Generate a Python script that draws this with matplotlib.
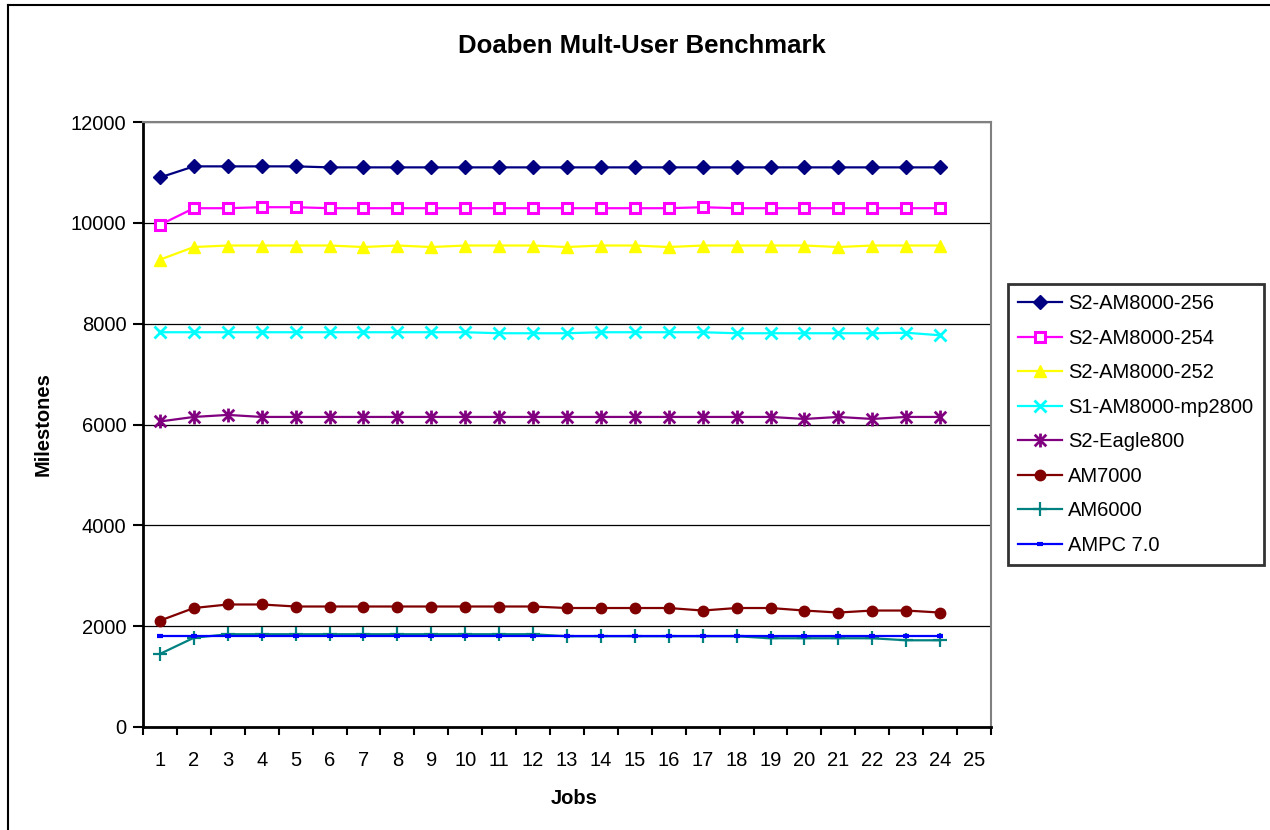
import numpy as np
import matplotlib
matplotlib.use('Agg')
import matplotlib.pyplot as plt
from matplotlib.path import Path
from matplotlib.lines import Line2D

plt.rcParams['font.family'] = ['Liberation Sans', 'DejaVu Sans']

jobs = list(range(1, 25))

s2_am8000_256 = [10900, 11120, 11120, 11120, 11120, 11100, 11100, 11100, 11100, 11100, 11100, 11100,
                 11100, 11100, 11100, 11100, 11100, 11100, 11100, 11100, 11100, 11100, 11100, 11100]
s2_am8000_254 = [9960, 10290, 10290, 10310, 10310, 10290, 10290, 10290, 10290, 10290, 10290, 10290,
                 10290, 10290, 10290, 10290, 10310, 10290, 10290, 10290, 10290, 10290, 10290, 10290]
s2_am8000_252 = [9270, 9520, 9550, 9550, 9550, 9550, 9520, 9550, 9520, 9550, 9550, 9550,
                 9520, 9550, 9550, 9520, 9550, 9550, 9550, 9550, 9520, 9550, 9550, 9550]
s1_am8000_mp2800 = [7830, 7830, 7830, 7830, 7830, 7830, 7830, 7830, 7830, 7830, 7810, 7810,
                    7810, 7830, 7830, 7830, 7830, 7810, 7810, 7810, 7810, 7810, 7820, 7770]
s2_eagle800 = [6060, 6150, 6190, 6150, 6150, 6150, 6150, 6150, 6150, 6150, 6150, 6150,
               6150, 6150, 6150, 6150, 6150, 6150, 6150, 6110, 6150, 6110, 6150, 6150]
am7000 = [2110, 2360, 2430, 2430, 2390, 2390, 2390, 2390, 2390, 2390, 2390, 2390,
          2360, 2360, 2360, 2360, 2310, 2360, 2360, 2310, 2270, 2310, 2310, 2270]
am6000 = [1450, 1770, 1840, 1840, 1840, 1840, 1840, 1840, 1840, 1840, 1840, 1840,
          1800, 1800, 1800, 1800, 1800, 1800, 1760, 1760, 1760, 1760, 1720, 1720]
ampc_70 = [1800, 1800, 1800, 1800, 1800, 1800, 1800, 1800, 1800, 1800, 1800, 1800,
           1800, 1800, 1800, 1800, 1800, 1800, 1800, 1800, 1800, 1800, 1800, 1800]

# excel style star: X with a vertical stroke
star = Path([(-0.5, -0.5), (0.5, 0.5), (-0.5, 0.5), (0.5, -0.5), (0, -0.6), (0, 0.6)],
            [Path.MOVETO, Path.LINETO, Path.MOVETO, Path.LINETO, Path.MOVETO, Path.LINETO])

series = [
    ('S2-AM8000-256', s2_am8000_256, dict(color='#000080', marker='D', ms=7)),
    ('S2-AM8000-254', s2_am8000_254, dict(color='#FF00FF', marker='s', ms=6.5, mfc='white', mew=2.2)),
    ('S2-AM8000-252', s2_am8000_252, dict(color='#FFFF00', marker='^', ms=9)),
    ('S1-AM8000-mp2800', s1_am8000_mp2800, dict(color='#00FFFF', marker='x', ms=8, mew=2)),
    ('S2-Eagle800', s2_eagle800, dict(color='#800080', marker=star, ms=10, mew=2)),
    ('AM7000', am7000, dict(color='#800000', marker='o', ms=7.5)),
    ('AM6000', am6000, dict(color='#008080', marker='+', ms=10, mew=1.6)),
    ('AMPC 7.0', ampc_70, dict(color='#0000FF', marker='_', ms=5, mew=3)),
]

fig = plt.figure(figsize=(12.7, 8.3), dpi=100)
ax = fig.add_axes([143/1270, 1-727/830, (991-143)/1270, (727-122)/830])

for name, vals, style in series:
    ax.plot(jobs, vals, lw=1.6, label=name, **style)

ax.set_xlim(0.5, 25.5)
ax.set_ylim(0, 12000)
ax.set_yticks(np.arange(0, 12001, 2000))
ax.yaxis.grid(True, color='black', lw=0.9)
ax.set_axisbelow(True)

# ticks between categories, labels at centres
ax.set_xticks(np.arange(0.5, 26, 1))
ax.set_xticklabels([])
ax.set_xticks(np.arange(1, 26), minor=True)
ax.set_xticklabels([str(i) for i in range(1, 26)], minor=True)
ax.tick_params(axis='x', which='major', direction='out', length=6, width=1.5)
ax.tick_params(axis='x', which='minor', length=0, pad=17, labelsize=14.5)
ax.tick_params(axis='y', direction='out', length=7, width=1.5, pad=5, labelsize=14.5)

for s in ['top', 'right']:
    ax.spines[s].set_color('#808080')
    ax.spines[s].set_linewidth(1.5)
for s in ['left', 'bottom']:
    ax.spines[s].set_linewidth(2)

ax.set_xlabel('Jobs', fontsize=14.5, fontweight='bold')
ax.xaxis.set_label_coords(0.509, -0.1025)
ax.set_ylabel('Milestones', fontsize=14.5, fontweight='bold')
ax.yaxis.set_label_coords(-0.106, 0.5)

fig.text(642/1270, 1-46/830, 'Doaben Mult-User Benchmark', fontsize=18.5,
         fontweight='bold', ha='center', va='center')

leg = fig.legend(loc='upper left', bbox_to_anchor=(1008/1270, 1-284/830),
                 fontsize=14.5, frameon=True, fancybox=False, edgecolor='black',
                 handlelength=2.2, handletextpad=0.3, labelspacing=0.77,
                 borderpad=0.5, borderaxespad=0)
leg.get_frame().set_linewidth(2)

# outer chart frame
fig.add_artist(Line2D([8/1270, 8/1270], [-0.1, 1-5/830], color='black', lw=1.5,
                      transform=fig.transFigure))
fig.add_artist(Line2D([8/1270, 1.1], [1-5/830, 1-5/830], color='black', lw=1.5,
                      transform=fig.transFigure))

fig.savefig('out.png', dpi=100)
